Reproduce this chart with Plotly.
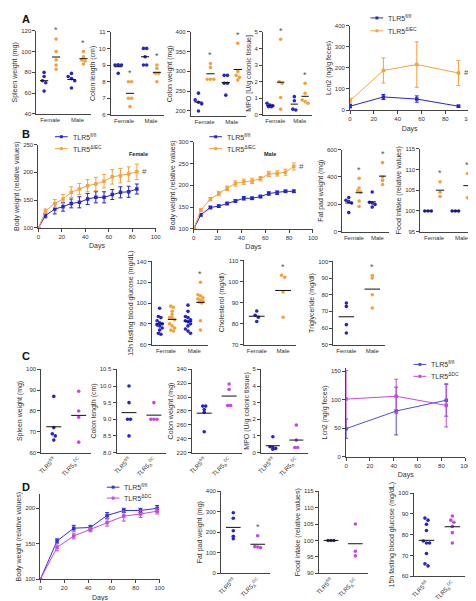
import numpy as np
import plotly.graph_objects as go

W, H = 476, 601
BLUE = '#2626c8'
ORANGE = '#f4a23c'
MAG = '#c24ade'
TXT = '#333333'
AX = '#444444'
FONT = 'Liberation Sans, Arial, sans-serif'

# ---------------- data ----------------
grp_sex = ['Female', 'Male']
grp_dc = ['TLR5<sup>fl/fl</sup>', 'TLR5<sub>Δ</sub><sup>DC</sup>']

# Panel A
spl_F_fl = [80, 76, 72, 70, 62]
spl_F_ko = [112, 100, 92, 87, 83]
spl_M_fl = [79, 76, 74, 72, 65]
spl_M_ko = [100, 95, 92, 91, 88]
clen_F_fl = [9, 9, 9, 9, 8.5]
clen_F_ko = [8, 8, 7, 7, 6.5]
clen_M_fl = [10, 10, 9.5, 9, 9]
clen_M_ko = [9, 8.8, 8.5, 8.5, 8]
cwt_F_fl = [245, 228, 222, 218, 200]
cwt_F_ko = [320, 310, 280, 280, 280]
cwt_M_fl = [290, 290, 270, 270, 240]
cwt_M_ko = [371, 300, 290, 285, 278]
mpo_F_fl = [0.7, 0.6, 0.55, 0.5, 0.5]
mpo_F_ko = [4.55, 2.0, 1.9, 1.05, 0.35]
mpo_M_fl = [1.1, 0.85, 0.35, 0.3]
mpo_M_ko = [1.9, 1.3, 0.9, 0.8, 0.7]
lcn2_days = [0, 28, 56, 91]
lcn2_fl = [18, 62, 52, 18]
lcn2_fl_err = [8, 12, 15, 5]
lcn2_ko = [44, 188, 216, 176]
lcn2_ko_err = [12, 60, 108, 60]

# Panel B
bw_days = [0, 6, 14, 21, 28, 35, 42, 49, 56, 63, 70, 77, 84]
bwF_fl = [100, 122, 134, 138, 144, 146, 152, 155, 155, 160, 164, 165, 170]
bwF_fl_err = [0, 4, 9, 8, 8, 10, 10, 10, 10, 9, 10, 10, 9]
bwF_ko = [100, 130, 144, 152, 164, 170, 176, 179, 184, 192, 194, 197, 201]
bwF_ko_err = [0, 4, 7, 8, 10, 10, 11, 12, 12, 13, 13, 13, 14]
bwM_fl = [100, 132, 149, 152, 158, 164, 170, 170, 174, 181, 183, 186, 186]
bwM_fl_err = [0, 3, 3, 3, 3, 3, 4, 3, 3, 4, 4, 3, 3]
bwM_ko = [100, 143, 168, 181, 193, 204, 208, 210, 215, 226, 227, 230, 243]
bwM_ko_err = [0, 3, 4, 5, 5, 6, 6, 6, 5, 6, 6, 7, 8]
fat_F_fl = [250, 230, 220, 210, 140]
fat_F_ko = [390, 320, 300, 290, 225, 185]
fat_M_fl = [290, 215, 210, 200, 180]
fat_M_ko = [505, 400, 375, 345]
food_F_fl = [100, 100, 100]
food_F_ko = [107, 104.5, 103.5]
food_M_fl = [100, 100, 100]
food_M_ko = [109, 103.2]
glu_F_fl = [95, 87, 86, 83, 81, 80, 79, 78, 76, 74, 71, 70]
glu_F_ko = [97, 96, 92, 89, 86, 86, 84, 80, 78, 76, 74, 73]
glu_M_fl = [98, 92, 87, 86, 84, 83, 82, 80, 78, 75, 73, 71]
glu_M_ko = [120, 108, 107, 105, 104, 103, 102, 101, 100, 83, 74]
chol_F_fl = [86, 84, 83, 81]
chol_M_ko = [103, 102, 95, 83]
tg_F_fl = [75, 73, 62, 57]
tg_M_ko = [91.5, 90, 80, 72]

# Panel C
splC_fl = [87, 72, 69, 68, 66]
splC_dc = [89.5, 80, 77, 65]
clenC_fl = [10, 9.5, 9, 9, 8.5]
clenC_dc = [9.5, 9, 9, 9]
cwtC_fl = [287, 287, 282, 278, 250]
cwtC_dc = [319, 311, 288, 288]
mpoC_fl = [0.95, 0.35, 0.3, 0.25, 0.2]
mpoC_dc = [1.65, 0.75, 0.3, 0.3]
lcn2C_days = [0, 42, 84]
lcn2C_fl = [49, 80, 99]
lcn2C_fl_err = [17, 42, 28]
lcn2C_dc = [101, 106, 90]
lcn2C_dc_err = [50, 30, 38]

# Panel D
bwD_days = [0, 14, 28, 42, 56, 70, 84, 98]
bwD_fl = [100, 154, 172, 173, 190, 197, 197, 200]
bwD_fl_err = [0, 3, 4, 3, 4, 3, 3, 4]
bwD_dc = [100, 145, 161, 170, 180, 189, 192, 196]
bwD_dc_err = [0, 5, 4, 3, 5, 7, 5, 4]
fatD_fl = [295, 268, 207, 180, 168]
fatD_dc = [183, 130, 128, 125]
foodD_fl = [100, 100, 100]
foodD_dc = [105, 96.7, 95.3]
gluD_fl = [88, 87, 85, 82, 77, 76, 76, 71, 66, 65]
gluD_dc = [89, 87, 86, 84, 81, 76]

# ---------------- helpers ----------------
fig = go.Figure()
count = [0]
annots = []
shapes = []


def add_axes(x0, x1, y0, y1, xr, yr, ytitle, ytickvals, xtickvals, xticktext=None,
             xtitle=None, tickangle=0):
    count[0] += 1
    n = count[0]
    s = '' if n == 1 else str(n)
    common = dict(showline=True, linecolor=AX, linewidth=1, ticks='outside', ticklen=3,
                  tickcolor=AX, showgrid=False, zeroline=False,
                  tickfont=dict(size=6, color=TXT, family=FONT))
    xa = dict(common, domain=[x0 / W, x1 / W], range=xr, anchor='y' + s,
              tickvals=xtickvals, tickangle=tickangle)
    if xticktext is not None:
        xa['ticktext'] = xticktext
        xa['ticks'] = ''
    if xtitle:
        xa['title'] = dict(text=xtitle, font=dict(size=7, color=TXT), standoff=4)
    ya = dict(common, domain=[1 - y1 / H, 1 - y0 / H], range=yr, anchor='x' + s,
              tickvals=ytickvals,
              title=dict(text=ytitle, font=dict(size=7, color=TXT), standoff=2))
    fig.layout['xaxis' + s] = xa
    fig.layout['yaxis' + s] = ya
    return 'x' + s, 'y' + s


def offsets(vals, tol, step):
    vals = np.asarray(vals, float)
    order = np.argsort(-vals)
    off = np.zeros(len(vals))
    clusters = []
    cur = [order[0]]
    for i in order[1:]:
        if abs(vals[i] - vals[cur[-1]]) < tol and len(cur) < 3:
            cur.append(i)
        else:
            clusters.append(cur)
            cur = [i]
    clusters.append(cur)
    for c in clusters:
        k = len(c)
        for j, idx in enumerate(c):
            off[idx] = (j - (k - 1) / 2) * step
    return off


def dots(xa, ya, vals, pos, color, yr, star=False, half=0.17, step=0.12):
    tol = (yr[1] - yr[0]) * 0.03
    xs = pos + offsets(vals, tol, step)
    fig.add_trace(go.Scatter(x=xs, y=vals, mode='markers', xaxis=xa, yaxis=ya,
                             marker=dict(size=3.6, color=color), showlegend=False,
                             hoverinfo='skip'))
    m = float(np.mean(vals))
    fig.add_trace(go.Scatter(x=[pos - half, pos + half], y=[m, m], mode='lines',
                             xaxis=xa, yaxis=ya, line=dict(color='#111111', width=1),
                             showlegend=False, hoverinfo='skip'))
    if star:
        annots.append(dict(x=pos, y=max(vals) + (yr[1] - yr[0]) * 0.02, xref=xa, yref=ya,
                           text='*', showarrow=False, yanchor='bottom',
                           font=dict(size=9, color='#555555')))


def series(xa, ya, days, vals, err, color):
    fig.add_trace(go.Scatter(x=days, y=vals, mode='lines+markers', xaxis=xa, yaxis=ya,
                             showlegend=False, hoverinfo='skip',
                             line=dict(color=color, width=1),
                             marker=dict(size=3.5, color=color, symbol='square'),
                             error_y=dict(type='data', array=err, color=color,
                                          thickness=1, width=2)))


def hash_mark(xa, ya, x, y):
    annots.append(dict(x=x, y=y, xref=xa, yref=ya, text='#', showarrow=False,
                       xanchor='left', font=dict(size=8, color='#555555')))


def legend_item(px, py, color, text):
    x0, x1 = px / W, (px + 13) / W
    yy = 1 - py / H
    shapes.append(dict(type='line', xref='paper', yref='paper', x0=x0, x1=x1, y0=yy, y1=yy,
                       line=dict(color=color, width=1)))
    cx = (px + 6.5) / W
    shapes.append(dict(type='rect', xref='paper', yref='paper',
                       x0=cx - 1.5 / W, x1=cx + 1.5 / W, y0=yy - 1.5 / H, y1=yy + 1.5 / H,
                       line=dict(width=0), fillcolor=color))
    annots.append(dict(x=(px + 16) / W, y=yy, xref='paper', yref='paper', text=text,
                       showarrow=False, xanchor='left', yanchor='middle',
                       font=dict(size=7, color=TXT)))


FL = 'TLR5<sup>fl/fl</sup>'
IEC = 'TLR5<sup>ΔIEC</sup>'
DC = 'TLR5<sup>ΔDC</sup>'
sexr = [-0.5, 1.5]

# ---------------- Panel A ----------------
xa, ya = add_axes(24, 80, 20, 104, sexr, [40, 120], 'Spleen weight (mg)',
                  [40, 60, 80, 100, 120], [0, 1], grp_sex)
yr = [40, 120]
dots(xa, ya, spl_F_fl, -0.22, BLUE, yr, half=0.15)
dots(xa, ya, spl_F_ko, 0.22, ORANGE, yr, True, half=0.15)
dots(xa, ya, spl_M_fl, 0.78, BLUE, yr, half=0.15)
dots(xa, ya, spl_M_ko, 1.22, ORANGE, yr, True, half=0.15)

xa, ya = add_axes(100, 155, 21, 105, sexr, [6, 11], 'Colon length (cm)',
                  [6, 7, 8, 9, 10, 11], [0, 1], grp_sex)
yr = [6, 11]
dots(xa, ya, clen_F_fl, -0.22, BLUE, yr, half=0.15)
dots(xa, ya, clen_F_ko, 0.22, ORANGE, yr, True, half=0.15)
dots(xa, ya, clen_M_fl, 0.78, BLUE, yr, half=0.15)
dots(xa, ya, clen_M_ko, 1.22, ORANGE, yr, True, half=0.15)

xa, ya = add_axes(182, 238, 21, 106, sexr, [187.5, 400], 'Colon weight (mg)',
                  [200, 250, 300, 350, 400], [0, 1], grp_sex)
yr = [187.5, 400]
dots(xa, ya, cwt_F_fl, -0.22, BLUE, yr, half=0.15)
dots(xa, ya, cwt_F_ko, 0.22, ORANGE, yr, True, half=0.15)
dots(xa, ya, cwt_M_fl, 0.78, BLUE, yr, half=0.15)
dots(xa, ya, cwt_M_ko, 1.22, ORANGE, yr, True, half=0.15)

xa, ya = add_axes(256, 306, 21, 105, sexr, [0, 5], 'MPO [U/g colonic tissue]',
                  [0, 1, 2, 3, 4, 5], [0, 1], grp_sex)
yr = [0, 5]
dots(xa, ya, mpo_F_fl, -0.22, BLUE, yr, half=0.15)
dots(xa, ya, mpo_F_ko, 0.22, ORANGE, yr, True, half=0.15)
dots(xa, ya, mpo_M_fl, 0.78, BLUE, yr, half=0.15)
dots(xa, ya, mpo_M_ko, 1.22, ORANGE, yr, True, half=0.15)

xa, ya = add_axes(345, 467, 15, 100, [0, 100], [0, 400], 'Lcn2 (ng/g feces)',
                  [0, 100, 200, 300, 400], [0, 20, 40, 60, 80, 100], xtitle='Days')
series(xa, ya, lcn2_days, lcn2_fl, lcn2_fl_err, BLUE)
series(xa, ya, lcn2_days, lcn2_ko, lcn2_ko_err, ORANGE)
hash_mark(xa, ya, lcn2_days[-1] + 3, lcn2_ko[-1])
legend_item(366, 7, BLUE, FL)
legend_item(366, 20, ORANGE, IEC)

# ---------------- Panel B ----------------
xa, ya = add_axes(26, 146, 135, 219, [0, 100], [100, 250], 'Body weight (relative values)',
                  [100, 150, 200, 250], [0, 20, 40, 60, 80, 100], xtitle='Days')
series(xa, ya, bw_days, bwF_fl, bwF_fl_err, BLUE)
series(xa, ya, bw_days, bwF_ko, bwF_ko_err, ORANGE)
hash_mark(xa, ya, bw_days[-1] + 3, bwF_ko[-1])
legend_item(43, 127, BLUE, FL)
legend_item(43, 139, ORANGE, IEC)

xa, ya = add_axes(185, 307, 132, 220, [0, 100], [100, 300], 'Body weight (relative values)',
                  [100, 150, 200, 250, 300], [0, 20, 40, 60, 80, 100], xtitle='Days')
series(xa, ya, bw_days, bwM_fl, bwM_fl_err, BLUE)
series(xa, ya, bw_days, bwM_ko, bwM_ko_err, ORANGE)
hash_mark(xa, ya, bw_days[-1] + 3, bwM_ko[-1])
legend_item(201, 127, BLUE, FL)
legend_item(201, 139, ORANGE, IEC)

xa, ya = add_axes(337, 385, 140, 223, sexr, [0, 600], 'Fat pad weight (mg)',
                  [0, 200, 400, 600], [0, 1], grp_sex)
yr = [0, 600]
dots(xa, ya, fat_F_fl, -0.22, BLUE, yr, half=0.15)
dots(xa, ya, fat_F_ko, 0.22, ORANGE, yr, True, half=0.15)
dots(xa, ya, fat_M_fl, 0.78, BLUE, yr, half=0.15)
dots(xa, ya, fat_M_ko, 1.22, ORANGE, yr, True, half=0.15)

xa, ya = add_axes(417, 473, 139, 223, sexr, [95, 115], 'Food intake (relative values)',
                  [95, 100, 105, 110, 115], [0, 1], grp_sex)
yr = [95, 115]
dots(xa, ya, food_F_fl, -0.22, BLUE, yr, half=0.15)
dots(xa, ya, food_F_ko, 0.22, ORANGE, yr, True, half=0.15)
dots(xa, ya, food_M_fl, 0.78, BLUE, yr, half=0.15)
dots(xa, ya, food_M_ko, 1.22, ORANGE, yr, True, half=0.15)

xa, ya = add_axes(142, 200, 253, 337, sexr, [60, 140], '15h fasting blood glucose (mg/dL)',
                  [60, 80, 100, 120, 140], [0, 1], grp_sex)
yr = [60, 140]
dots(xa, ya, glu_F_fl, -0.22, BLUE, yr, half=0.15, step=0.09)
dots(xa, ya, glu_F_ko, 0.22, ORANGE, yr, half=0.15, step=0.09)
dots(xa, ya, glu_M_fl, 0.78, BLUE, yr, half=0.15, step=0.09)
dots(xa, ya, glu_M_ko, 1.22, ORANGE, yr, True, half=0.15, step=0.09)

xa, ya = add_axes(236, 290, 252, 337, sexr, [70, 110], 'Cholesterol (mg/dl)',
                  [70, 80, 90, 100, 110], [0, 1], grp_sex)
yr = [70, 110]
dots(xa, ya, chol_F_fl, 0, BLUE, yr, half=0.3)
dots(xa, ya, chol_M_ko, 1, ORANGE, yr, True, half=0.3)

xa, ya = add_axes(328, 381, 253, 337, sexr, [50, 100], 'Triglyceride (mg/dl)',
                  [50, 60, 70, 80, 90, 100], [0, 1], grp_sex)
yr = [50, 100]
dots(xa, ya, tg_F_fl, 0, BLUE, yr, half=0.3)
dots(xa, ya, tg_M_ko, 1, ORANGE, yr, True, half=0.3)

# ---------------- Panel C ----------------
dcr = [-0.5, 1.5]
xa, ya = add_axes(29, 80, 362, 446, dcr, [60, 100], 'Spleen weight (mg)',
                  [60, 70, 80, 90, 100], [0, 1], grp_dc, tickangle=-45)
yr = [60, 100]
dots(xa, ya, splC_fl, 0, BLUE, yr, half=0.3)
dots(xa, ya, splC_dc, 1, MAG, yr, half=0.3)

xa, ya = add_axes(106, 157, 362, 446, dcr, [8, 10.5], 'Colon length (cm)',
                  [8, 8.5, 9, 9.5, 10, 10.5], [0, 1], grp_dc, tickangle=-45)
fig.layout['yaxis' + str(count[0])]['tickformat'] = '.1f'
yr = [8, 10.5]
dots(xa, ya, clenC_fl, 0, BLUE, yr, half=0.3)
dots(xa, ya, clenC_dc, 1, MAG, yr, half=0.3)

xa, ya = add_axes(183, 234, 362, 446, dcr, [220, 340], 'Colon weight (mg)',
                  [220, 240, 260, 280, 300, 320, 340], [0, 1], grp_dc, tickangle=-45)
yr = [220, 340]
dots(xa, ya, cwtC_fl, 0, BLUE, yr, half=0.3)
dots(xa, ya, cwtC_dc, 1, MAG, yr, half=0.3)

xa, ya = add_axes(254, 302, 362, 446, dcr, [0, 5], 'MPO (U/g colonic tissue)',
                  [0, 1, 2, 3, 4, 5], [0, 1], grp_dc, tickangle=-45)
yr = [0, 5]
dots(xa, ya, mpoC_fl, 0, BLUE, yr, half=0.3)
dots(xa, ya, mpoC_dc, 1, MAG, yr, half=0.3)

xa, ya = add_axes(341, 463, 361, 450, [0, 100], [0, 155], 'Lcn2 (ng/g feces)',
                  [0, 50, 100, 150], [0, 20, 40, 60, 80, 100], xtitle='Days')
series(xa, ya, lcn2C_days, lcn2C_fl, lcn2C_fl_err, '#4b4be0')
series(xa, ya, lcn2C_days, lcn2C_dc, lcn2C_dc_err, MAG)
legend_item(410, 357, '#4b4be0', FL)
legend_item(410, 369, MAG, DC)

# ---------------- Panel D ----------------
xa, ya = add_axes(28, 150, 488, 574, [0, 100], [100, 220], 'Body weight (relative values)',
                  [100, 150, 200], [0, 20, 40, 60, 80, 100], xtitle='Days')
series(xa, ya, bwD_days, bwD_fl, bwD_fl_err, '#3030d8')
series(xa, ya, bwD_days, bwD_dc, bwD_dc_err, MAG)
legend_item(96, 481, '#3030d8', FL)
legend_item(96, 492, MAG, DC)

xa, ya = add_axes(213, 263, 485, 568, dcr, [0, 400], 'Fat pad weight (mg)',
                  [0, 100, 200, 300, 400], [0, 1], grp_dc, tickangle=-45)
yr = [0, 400]
dots(xa, ya, fatD_fl, 0, BLUE, yr, half=0.3)
dots(xa, ya, fatD_dc, 1, MAG, yr, True, half=0.3)

xa, ya = add_axes(313, 363, 485, 568, dcr, [90, 115], 'Food intake (relative values)',
                  [90, 95, 100, 105, 110, 115], [0, 1], grp_dc, tickangle=-45)
yr = [90, 115]
dots(xa, ya, foodD_fl, 0, BLUE, yr, half=0.3)
dots(xa, ya, foodD_dc, 1, MAG, yr, half=0.3)

xa, ya = add_axes(410, 463, 487, 571, dcr, [60, 100], '15h fasting blood glucose (mg/dL)',
                  [60, 70, 80, 90, 100], [0, 1], grp_dc, tickangle=-45)
yr = [60, 100]
dots(xa, ya, gluD_fl, 0, BLUE, yr, half=0.3)
dots(xa, ya, gluD_dc, 1, MAG, yr, half=0.3)

# ---------------- letters and labels ----------------
for letter, px, py in [('A', 7, 8), ('B', 7, 124), ('C', 7, 348), ('D', 7, 481)]:
    annots.append(dict(x=px / W, y=1 - py / H, xref='paper', yref='paper', text='<b>%s</b>' % letter,
                       showarrow=False, xanchor='left', yanchor='middle',
                       font=dict(size=11, color='#111111')))
for txt, px, py in [('<b>Female</b>', 117, 139), ('<b>Male</b>', 263, 139)]:
    annots.append(dict(x=px / W, y=1 - py / H, xref='paper', yref='paper', text=txt,
                       showarrow=False, font=dict(size=5.5, color='#222222')))

fig.update_layout(
    width=W, height=H, margin=dict(l=0, r=0, t=0, b=0),
    paper_bgcolor='white', plot_bgcolor='white',
    font=dict(family=FONT, color=TXT),
    annotations=annots, shapes=shapes, showlegend=False,
)

fig.write_html('out.html')
